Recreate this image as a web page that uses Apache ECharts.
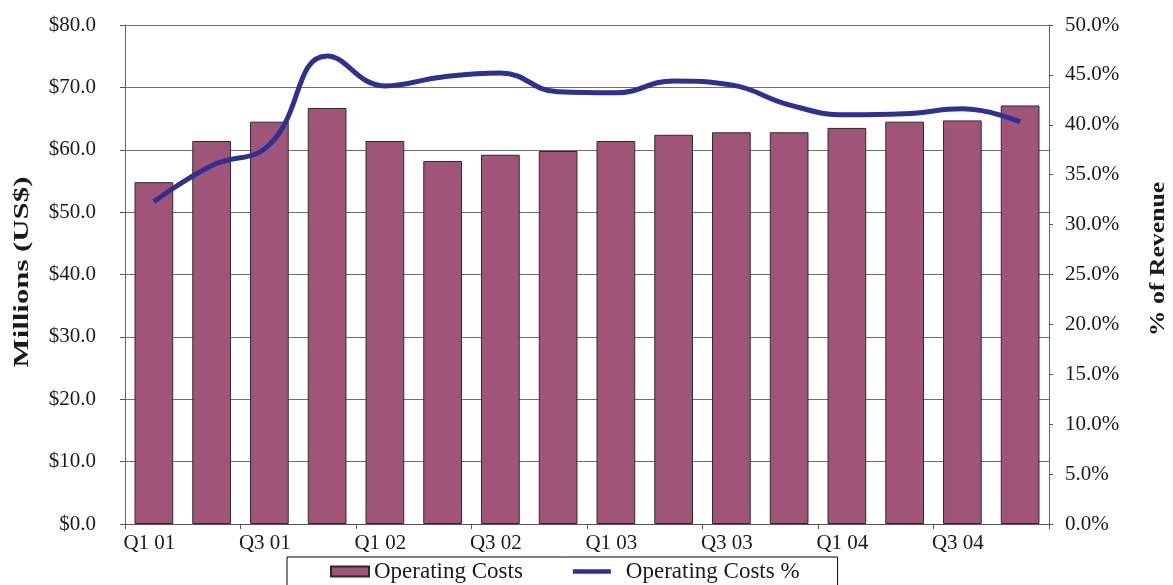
<!DOCTYPE html>
<html>
<head>
<meta charset="utf-8">
<script src="https://cdn.jsdelivr.net/npm/echarts@6/dist/echarts.min.js"></script>
<style>
  html, body { margin: 0; padding: 0; background: #ffffff; }
  #chart { width: 1173px; height: 585px; }
</style>
</head>
<body>
<div id="chart"></div>
<script>
// Quarterly operating costs (US$ millions) and operating costs as % of revenue
const quarters = ['Q1 01', 'Q2 01', 'Q3 01', 'Q4 01',
                  'Q1 02', 'Q2 02', 'Q3 02', 'Q4 02',
                  'Q1 03', 'Q2 03', 'Q3 03', 'Q4 03',
                  'Q1 04', 'Q2 04', 'Q3 04', 'Q4 04'];
const operatingCosts = [54.8, 61.4, 64.5, 66.7, 61.4, 58.2, 59.2, 59.8,
                        61.4, 62.4, 62.8, 62.8, 63.5, 64.5, 64.7, 67.1];
const operatingCostsPct = [32.3, 35.9, 38.0, 46.9, 43.9, 44.8, 45.2, 43.3,
                           43.2, 44.4, 44.0, 42.0, 41.0, 41.1, 41.6, 40.3];
const seriesNames = ['Operating Costs', 'Operating Costs %'];
const leftAxisTitle = 'Millions (US$)';
const rightAxisTitle = '% of Revenue';

const FONT = "'Liberation Serif', 'Times New Roman', serif";
const TEXT = '#1a1a1a';
const BAR_COLOR = '#a05578';
const LINE_COLOR = '#2e3192';

const chart = echarts.init(document.getElementById('chart'), null, { renderer: 'canvas' });

chart.setOption({
  animation: false,
  backgroundColor: '#ffffff',
  textStyle: { fontFamily: FONT, color: TEXT },
  grid: { left: 125, right: 124, top: 25, bottom: 61, containLabel: false },
  // Axis titles, drawn in the long, stretched serif style of the figure
  graphic: [
    {
      type: 'text',
      x: 22, y: 272,
      rotation: Math.PI / 2,
      scaleX: 1.4,
      style: {
        text: leftAxisTitle,
        fontFamily: FONT, fontSize: 22, fontWeight: 'bold',
        fill: TEXT, align: 'center', verticalAlign: 'middle'
      }
    },
    {
      type: 'text',
      x: 1158, y: 259,
      rotation: Math.PI / 2,
      scaleX: 1.17,
      style: {
        text: rightAxisTitle,
        fontFamily: FONT, fontSize: 22, fontWeight: 'bold',
        fill: TEXT, align: 'center', verticalAlign: 'middle'
      }
    }
  ],
  legend: {
    left: 287,
    top: 557,
    padding: [3, 38, 14, 43],
    itemGap: 50,
    itemWidth: 38,
    itemHeight: 10,
    symbolKeepAspect: true,
    borderColor: '#000000',
    borderWidth: 1,
    borderRadius: 0,
    formatter: name => (name === seriesNames[1] ? '{gap|}' + name : name),
    textStyle: {
      fontFamily: FONT, fontSize: 23, color: TEXT,
      rich: { gap: { width: 10 } }
    },
    data: [
      { name: seriesNames[0], icon: 'rect' },
      { name: seriesNames[1], icon: 'path://M0,0H38V4.5H0Z' }
    ]
  },
  xAxis: {
    type: 'category',
    data: quarters,
    boundaryGap: true,
    axisLine: { show: true, lineStyle: { color: '#555555', width: 1 } },
    axisTick: { show: true, alignWithLabel: false, length: 5, lineStyle: { color: '#555555' } },
    axisLabel: {
      interval: 1,
      margin: 9,
      padding: [0, 9, 0, 0],
      fontFamily: FONT, fontSize: 21, color: TEXT
    },
    splitLine: { show: false }
  },
  yAxis: [
    {
      type: 'value',
      min: 0, max: 80, interval: 10,
      position: 'left',
      axisLine: { show: true, lineStyle: { color: '#666666', width: 1 } },
      axisTick: { show: true, length: 5, lineStyle: { color: '#555555' } },
      axisLabel: {
        margin: 29,
        fontFamily: FONT, fontSize: 21, color: TEXT,
        formatter: v => '$' + v.toFixed(1)
      },
      splitLine: { show: true, lineStyle: { color: '#6e6e6e', width: 1 } }
    },
    {
      type: 'value',
      min: 0, max: 50, interval: 5,
      position: 'right',
      axisLine: { show: true, lineStyle: { color: '#666666', width: 1 } },
      axisTick: { show: true, length: 4, lineStyle: { color: '#555555' } },
      axisLabel: {
        margin: 16,
        fontFamily: FONT, fontSize: 21, color: TEXT,
        formatter: v => v.toFixed(1) + '%'
      },
      splitLine: { show: false }
    }
  ],
  series: [
    {
      name: seriesNames[0],
      type: 'bar',
      yAxisIndex: 0,
      data: operatingCosts,
      barCategoryGap: '33%',
      itemStyle: { color: BAR_COLOR, borderColor: '#2b2b2b', borderWidth: 1 },
      z: 2
    },
    {
      name: seriesNames[1],
      type: 'line',
      yAxisIndex: 1,
      data: operatingCostsPct,
      smooth: 0.45,
      symbol: 'none',
      showSymbol: false,
      lineStyle: { color: LINE_COLOR, width: 5 },
      itemStyle: { color: LINE_COLOR },
      z: 3
    }
  ]
});
</script>
</body>
</html>
